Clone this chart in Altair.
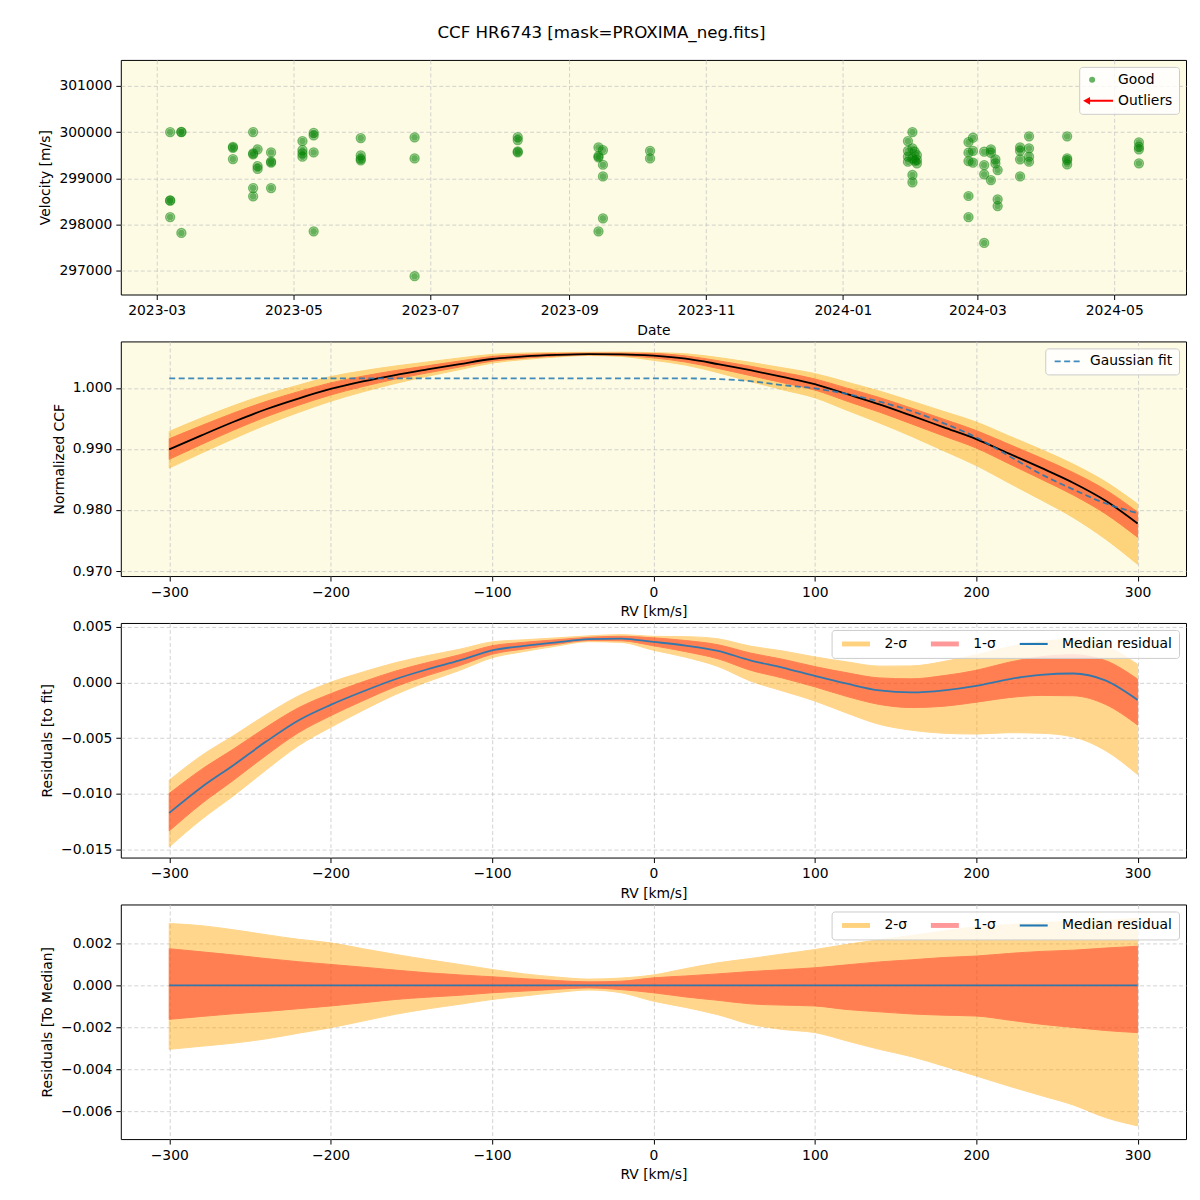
import altair as alt
import pandas as pd

TITLE = "CCF HR6743 [mask=PROXIMA_neg.fits]"
FONT = "DejaVu Sans"
BG = "#FDFBE3"

# ---------------- Panel 1: RV time series ----------------
obs_dates = [
    "2023-03-07", "2023-03-07", "2023-03-07", "2023-03-07",
    "2023-03-12", "2023-03-12", "2023-03-12",
    "2023-04-04", "2023-04-04", "2023-04-04",
    "2023-04-13", "2023-04-13", "2023-04-13", "2023-04-13", "2023-04-13",
    "2023-04-15", "2023-04-15", "2023-04-15",
    "2023-04-21", "2023-04-21", "2023-04-21", "2023-04-21",
    "2023-05-05", "2023-05-05", "2023-05-05", "2023-05-05",
    "2023-05-10", "2023-05-10", "2023-05-10", "2023-05-10",
    "2023-05-31", "2023-05-31", "2023-05-31", "2023-05-31",
    "2023-06-24", "2023-06-24", "2023-06-24",
    "2023-08-09", "2023-08-09", "2023-08-09", "2023-08-09",
    "2023-09-14", "2023-09-14", "2023-09-14", "2023-09-14",
    "2023-09-16", "2023-09-16", "2023-09-16", "2023-09-16",
    "2023-10-07", "2023-10-07",
    "2024-01-30", "2024-01-30", "2024-01-30", "2024-01-30",
    "2024-02-01", "2024-02-01", "2024-02-01", "2024-02-01", "2024-02-01",
    "2024-02-02", "2024-02-02",
    "2024-02-03", "2024-02-03", "2024-02-03",
    "2024-02-26", "2024-02-26", "2024-02-26", "2024-02-26", "2024-02-26",
    "2024-02-28", "2024-02-28", "2024-02-28",
    "2024-03-04", "2024-03-04", "2024-03-04", "2024-03-04",
    "2024-03-07", "2024-03-07", "2024-03-07",
    "2024-03-09", "2024-03-09",
    "2024-03-10", "2024-03-10", "2024-03-10",
    "2024-03-20", "2024-03-20", "2024-03-20", "2024-03-20",
    "2024-03-24", "2024-03-24", "2024-03-24", "2024-03-24",
    "2024-04-10", "2024-04-10", "2024-04-10", "2024-04-10",
    "2024-05-12", "2024-05-12", "2024-05-12", "2024-05-12",
]
obs_vel = [
    300000, 298513, 298520, 298160,
    300000, 300005, 297814,
    299660, 299680, 299415,
    300000, 299517, 299540, 298788, 298608,
    299625, 299264, 299200,
    299560, 299336, 299360, 298788,
    299805, 299610, 299539, 299466,
    299985, 299928, 299560, 297850,
    299870, 299495, 299387, 299420,
    299885, 299430, 296877,
    299892, 299827, 299560, 299580,
    299669, 299452, 299480, 297850,
    299610, 299292, 299040, 298132,
    299595, 299430,
    299805, 299595, 299466, 299357,
    300000, 299647, 299070, 298911, 299430,
    299574, 299380,
    299502, 299322, 299400,
    299784, 299552, 299372, 298615, 298160,
    299877, 299595, 299336,
    299574, 299286, 299084, 297597,
    299625, 298961, 299550,
    299409, 299322,
    299177, 298543, 298398,
    299669, 299595, 299409, 299040,
    299907, 299647, 299466, 299357,
    299907, 299430, 299394, 299300,
    299777, 299625, 299322, 299680,
]
vel_ticks = [297000, 298000, 299000, 300000, 301000]
legend1_labels = ["Good", "Outliers"]

# ---------------- Panels 2-4: CCF profiles ----------------
rv = [-300, -280, -260, -240, -220, -200, -180, -160, -140, -120, -100,
      -80, -60, -40, -20, 0, 20, 40, 60, 80, 100,
      120, 140, 160, 180, 200, 220, 240, 260, 280, 300]
ccf_median = [0.98992, 0.99222, 0.99445, 0.99650, 0.99825, 0.99982, 1.00105,
              1.00210, 1.00302, 1.00390, 1.00473, 1.00515, 1.00540, 1.00553,
              1.00550, 1.00527, 1.00478, 1.00390, 1.00290, 1.00180, 1.00063,
              0.99897, 0.99730, 0.99545, 0.99353, 0.99161, 0.98927, 0.98693,
              0.98447, 0.98155, 0.97779]
gauss_fit = [1.00156, 1.00156, 1.00156, 1.00156, 1.00156, 1.00156, 1.00156,
             1.00156, 1.00156, 1.00156, 1.00156, 1.00156, 1.00156, 1.00156,
             1.00156, 1.00156, 1.00155, 1.00145, 1.00110, 1.00045, 0.99992,
             0.99900, 0.99775, 0.99620, 0.99420, 0.99189, 0.98890, 0.98590,
             0.98338, 0.98110, 0.97948]
resid_median = [-0.01171, -0.00940, -0.00740, -0.00530, -0.00340, -0.00200,
                -0.00080, 0.00030, 0.00120, 0.00200, 0.00290, 0.00330,
                0.00362, 0.00390, 0.00396, 0.00366, 0.00333, 0.00285,
                0.00200, 0.00135, 0.00060, -0.00010, -0.00070, -0.00088,
                -0.00070, -0.00030, 0.00030, 0.00070, 0.00082, 0.00020,
                -0.00156]
median_to_median = [0.0] * len(rv)
hi2 = [0.00295, 0.00285, 0.00265, 0.00242, 0.00220, 0.00203, 0.00175, 0.00148,
       0.00123, 0.00100, 0.00076, 0.00055, 0.00040, 0.00030, 0.00035, 0.00050,
       0.00080, 0.00108, 0.00128, 0.00150, 0.00171, 0.00196, 0.00218, 0.00238,
       0.00260, 0.00280, 0.00290, 0.00300, 0.00305, 0.00310, 0.00320]
hi1 = [0.00175, 0.00160, 0.00145, 0.00128, 0.00113, 0.00100, 0.00087, 0.00073,
       0.00060, 0.00050, 0.00041, 0.00032, 0.00023, 0.00017, 0.00020, 0.00036,
       0.00045, 0.00055, 0.00066, 0.00075, 0.00084, 0.00098, 0.00112, 0.00122,
       0.00133, 0.00140, 0.00152, 0.00162, 0.00168, 0.00178, 0.00187]
lo1 = [-0.00162, -0.00148, -0.00135, -0.00124, -0.00111, -0.00098, -0.00083,
       -0.00067, -0.00056, -0.00047, -0.00035, -0.00027, -0.00018, -0.00012,
       -0.00020, -0.00035, -0.00055, -0.00071, -0.00088, -0.00094, -0.00098,
       -0.00115, -0.00126, -0.00136, -0.00142, -0.00146, -0.00165, -0.00185,
       -0.00200, -0.00215, -0.00225]
lo2 = [-0.00305, -0.00290, -0.00275, -0.00255, -0.00228, -0.00202, -0.00170,
       -0.00138, -0.00112, -0.00090, -0.00067, -0.00050, -0.00034, -0.00022,
       -0.00035, -0.00075, -0.00105, -0.00140, -0.00185, -0.00210, -0.00225,
       -0.00265, -0.00305, -0.00340, -0.00385, -0.00432, -0.00480, -0.00525,
       -0.00570, -0.00630, -0.00670]
rv_ticks = [-300, -200, -100, 0, 100, 200, 300]
ccf_ticks = [0.970, 0.975, 0.980, 0.985, 0.990, 0.995, 1.000, 1.005]
res_ticks = [-0.015, -0.010, -0.005, 0.000, 0.005]
med_ticks = [-0.006, -0.004, -0.002, 0.000, 0.002]
band_labels = ["2-σ", "1-σ", "Median residual"]

W, H = 1067, 235
SMOOTH = "monotone"


def legend_box(**kw):
    base = dict(title=None, orient="top-right", offset=7, padding=6,
                fillColor="rgba(255,255,255,0.8)", strokeColor="#cccccc",
                cornerRadius=3, labelFont=FONT, labelFontSize=13.9,
                labelColor="black")
    base.update(kw)
    return alt.Legend(**base)


# ---- panel 1
pts = pd.DataFrame({"date": obs_dates, "vel": obs_vel, "kind": "Good"})
ARROW = "M-3,0L-0.7,-1.3L-0.7,-0.35L7,-0.35L7,0.35L-0.7,0.35L-0.7,1.3Z"
leg1 = legend_box(symbolSize=36, labelOffset=19, rowPadding=6)
x_date = alt.X(
    "date:T",
    scale=alt.Scale(type="utc",
                    domain=[alt.DateTime(year=2023, month=2, date=13, utc=True),
                            alt.DateTime(year=2024, month=6, date=2, utc=True)]),
    axis=alt.Axis(title="Date", labelExpr="utcFormat(datum.value, '%Y-%m')",
                  values=[alt.DateTime(year=y, month=m, date=1, utc=True)
                          for y, m in [(2023, 3), (2023, 5), (2023, 7), (2023, 9),
                                       (2023, 11), (2024, 1), (2024, 3), (2024, 5)]]),
)
y_vel = alt.Y("vel:Q", scale=alt.Scale(domain=[296481, 301563], nice=False, zero=False),
              axis=alt.Axis(title="Velocity [m/s]", values=vel_ticks, format="d"))
dots = alt.Chart(pts).mark_point(filled=True, size=45).encode(
    x=x_date, y=y_vel,
    color=alt.Color("kind:N", scale=alt.Scale(domain=legend1_labels, range=["green", "red"]), legend=leg1),
    shape=alt.Shape("kind:N", scale=alt.Scale(domain=legend1_labels, range=["circle", ARROW]), legend=leg1),
    opacity=alt.Opacity("kind:N", scale=alt.Scale(domain=legend1_labels, range=[0.6, 1.0]), legend=leg1),
)
rings = alt.Chart(pts).mark_point(filled=False, size=75, strokeWidth=1.6, color="green", opacity=0.55).encode(
    x="date:T", y="vel:Q")
p1 = alt.layer(dots, rings).properties(width=W, height=H)


def x_rv():
    return alt.X("rv:Q", scale=alt.Scale(domain=[-330, 330], nice=False, zero=False),
                 axis=alt.Axis(title="RV [km/s]", values=rv_ticks, format="d"))


# ---- panel 2
df2 = pd.DataFrame({"rv": rv, "med": ccf_median, "fit": gauss_fit,
                    "o_hi2": hi2, "o_hi1": hi1, "o_lo1": lo1, "o_lo2": lo2})
df2 = df2.assign(hi2=df2.med + df2.o_hi2, hi1=df2.med + df2.o_hi1,
                 lo1=df2.med + df2.o_lo1, lo2=df2.med + df2.o_lo2)
y2_scale = alt.Scale(domain=[0.96918, 1.00761], nice=False, zero=False)
a2 = alt.Chart(df2).mark_area(color="#FFA500", opacity=0.45, stroke="#FFA500", strokeWidth=1,
                              interpolate=SMOOTH).encode(
    x=x_rv(),
    y=alt.Y("lo2:Q", scale=y2_scale, axis=alt.Axis(title="Normalized CCF", values=ccf_ticks, format=".3f")),
    y2="hi2:Q")
a1 = alt.Chart(df2).mark_area(color="#FF0000", opacity=0.4, stroke="#FF0000", strokeWidth=1,
                              interpolate=SMOOTH).encode(
    x="rv:Q", y="lo1:Q", y2="hi1:Q")
medline = alt.Chart(df2).mark_line(color="black", strokeWidth=1.8, interpolate=SMOOTH).encode(
    x="rv:Q", y="med:Q")
fitline = alt.Chart(df2).transform_calculate(series="'Gaussian fit'").mark_line(
    strokeDash=[6, 3.5], strokeWidth=1.8, opacity=0.85, interpolate=SMOOTH).encode(
    x="rv:Q", y="fit:Q",
    color=alt.Color("series:N", scale=alt.Scale(domain=["Gaussian fit"], range=["#1f77b4"]),
                    legend=legend_box(symbolType="M-1,0H7", symbolSize=49, symbolDash=[6, 3.5],
                                      symbolStrokeWidth=1.8, symbolStrokeColor="#1f77b4",
                                      symbolOpacity=0.85, labelOffset=25)))
p2 = alt.layer(a2, a1, medline, fitline).properties(width=W, height=H)

# ---- panels 3 and 4
RECT = "M-1,-0.7H7V0.7H-1Z"
LINE = "M-1,-0.3H7V0.3H-1Z"


def band_panel(center, ytitle, domain, ticks):
    df = pd.DataFrame({"rv": rv, "med": center,
                       "o_hi2": hi2, "o_hi1": hi1, "o_lo1": lo1, "o_lo2": lo2})
    df = df.assign(hi2=df.med + df.o_hi2, hi1=df.med + df.o_hi1,
                   lo1=df.med + df.o_lo1, lo2=df.med + df.o_lo2)
    c2 = alt.Chart(df).mark_area(color="#FFA500", opacity=0.45, stroke="#FFA500", strokeWidth=1,
                                 interpolate=SMOOTH).encode(
        x=x_rv(),
        y=alt.Y("lo2:Q", scale=alt.Scale(domain=domain, nice=False, zero=False),
                axis=alt.Axis(title=ytitle, values=ticks, format=".3f")),
        y2="hi2:Q")
    c1 = alt.Chart(df).mark_area(color="#FF0000", opacity=0.4, stroke="#FF0000", strokeWidth=1,
                                 interpolate=SMOOTH).encode(
        x="rv:Q", y="lo1:Q", y2="hi1:Q")
    cl = alt.Chart(df).mark_line(color="#1f77b4", strokeWidth=1.8, opacity=0.9,
                                 interpolate=SMOOTH).encode(
        x="rv:Q", y="med:Q")
    leg = legend_box(direction="horizontal", symbolSize=49, labelOffset=32,
                     columnPadding=20, symbolStrokeWidth=0, padding=7)
    keyd = pd.DataFrame({"band": band_labels})
    key = alt.Chart(keyd).transform_filter("false").mark_point(filled=True, opacity=1).encode(
        color=alt.Color("band:N", scale=alt.Scale(domain=band_labels, range=["#FFD27F", "#FF9999", "#1f77b4"]), legend=leg),
        shape=alt.Shape("band:N", scale=alt.Scale(domain=band_labels, range=[RECT, RECT, LINE]), legend=leg),
    )
    return alt.layer(c2, c1, cl, key).properties(width=W, height=H)


p3 = band_panel(resid_median, "Residuals [to fit]", [-0.01572, 0.00536], res_ticks)
p4 = band_panel(median_to_median, "Residuals [To Median]", [-0.00733, 0.00386], med_ticks)

chart = (
    alt.vconcat(p1, p2, p3, p4, spacing=47, bounds="flush")
    .resolve_scale(color="independent", shape="independent", opacity="independent")
    .properties(
        title=alt.TitleParams(TITLE, font=FONT, fontSize=16.7, fontWeight="normal",
                              color="black", anchor="middle", offset=18, dx=-11),
        padding={"left": 30, "top": 15, "right": 5, "bottom": 5},
        background="white",
    )
    .configure_view(fill=BG, stroke="black", strokeWidth=1)
    .configure_axis(labelFont=FONT, labelFontSize=13.9, labelColor="black",
                    titleFont=FONT, titleFontSize=13.9, titleFontWeight="normal",
                    titleColor="black", tickColor="black", tickSize=5, tickWidth=1,
                    labelPadding=4, titlePadding=6, domain=False, grid=True,
                    gridColor="#c8c8c8", gridDash=[4, 2.5], gridWidth=0.8)
)

chart.save("out.html", embed_options={"renderer": "svg", "actions": False})
